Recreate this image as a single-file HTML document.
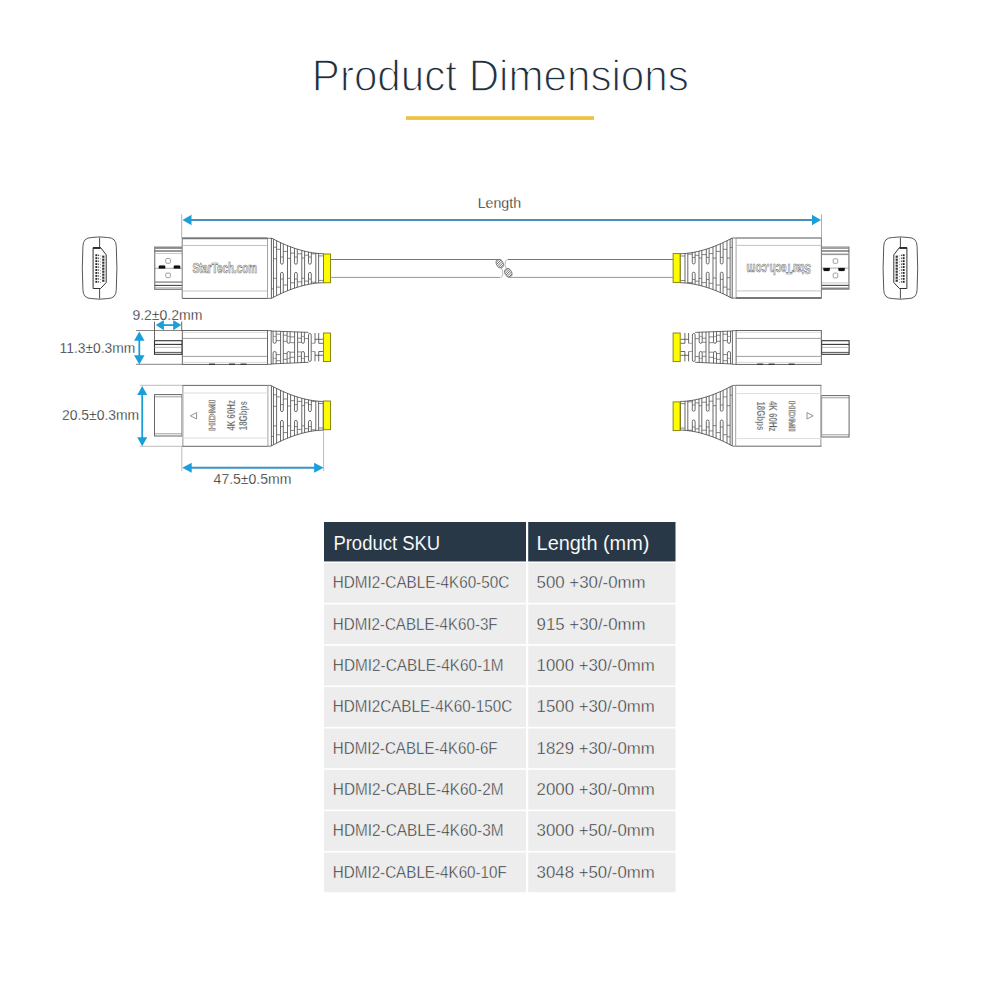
<!DOCTYPE html>
<html><head><meta charset="utf-8">
<style>
html,body{margin:0;padding:0;background:#fff;width:1000px;height:1000px;overflow:hidden;}
svg{position:absolute;left:0;top:0;font-family:"Liberation Sans",sans-serif;}
.th{stroke:#283847;stroke-width:0.1px;}
.tr{stroke:#ededed;stroke-width:0.45px;}
.ti{stroke:#fff;stroke-width:1.3px;}
.dim{stroke:#fff;stroke-width:0.3px;}
.logo{}
.sm{stroke:#fff;stroke-width:0.25px;}
</style></head><body>
<svg width="1000" height="1000" viewBox="0 0 1000 1000">
<text x="311.80" y="91.30" font-size="45" fill="#1f2f3e" textLength="377.00" lengthAdjust="spacingAndGlyphs" class="ti">Product Dimensions</text>
<rect x="406" y="116.2" width="188" height="3.7" fill="#efc23f"/>
<rect x="324" y="522" width="202" height="39.45" fill="#283847"/>
<rect x="528.2" y="522" width="147.3" height="39.45" fill="#283847"/>
<text x="333.40" y="549.60" font-size="20" fill="#fff" textLength="106.80" lengthAdjust="spacingAndGlyphs" class="th">Product SKU</text>
<text x="536.60" y="549.60" font-size="20" fill="#fff" textLength="112.80" lengthAdjust="spacingAndGlyphs" class="th">Length (mm)</text>
<rect x="324" y="563.05" width="202" height="39.75" fill="#ededed"/>
<rect x="528.2" y="563.05" width="147.3" height="39.75" fill="#ededed"/>
<text x="332.80" y="588.25" font-size="17.4" fill="#25292c" textLength="176.40" lengthAdjust="spacingAndGlyphs" class="tr">HDMI2-CABLE-4K60-50C</text>
<text x="536.60" y="588.25" font-size="17.4" fill="#25292c" textLength="109.00" lengthAdjust="spacingAndGlyphs" class="tr">500 +30/-0mm</text>
<rect x="324" y="604.40" width="202" height="39.75" fill="#ededed"/>
<rect x="528.2" y="604.40" width="147.3" height="39.75" fill="#ededed"/>
<text x="332.80" y="629.60" font-size="17.4" fill="#25292c" textLength="164.80" lengthAdjust="spacingAndGlyphs" class="tr">HDMI2-CABLE-4K60-3F</text>
<text x="536.60" y="629.60" font-size="17.4" fill="#25292c" textLength="109.00" lengthAdjust="spacingAndGlyphs" class="tr">915 +30/-0mm</text>
<rect x="324" y="645.75" width="202" height="39.75" fill="#ededed"/>
<rect x="528.2" y="645.75" width="147.3" height="39.75" fill="#ededed"/>
<text x="332.80" y="670.95" font-size="17.4" fill="#25292c" textLength="170.80" lengthAdjust="spacingAndGlyphs" class="tr">HDMI2-CABLE-4K60-1M</text>
<text x="536.60" y="670.95" font-size="17.4" fill="#25292c" textLength="118.20" lengthAdjust="spacingAndGlyphs" class="tr">1000 +30/-0mm</text>
<rect x="324" y="687.10" width="202" height="39.75" fill="#ededed"/>
<rect x="528.2" y="687.10" width="147.3" height="39.75" fill="#ededed"/>
<text x="332.80" y="712.30" font-size="17.4" fill="#25292c" textLength="179.40" lengthAdjust="spacingAndGlyphs" class="tr">HDMI2CABLE-4K60-150C</text>
<text x="536.60" y="712.30" font-size="17.4" fill="#25292c" textLength="118.20" lengthAdjust="spacingAndGlyphs" class="tr">1500 +30/-0mm</text>
<rect x="324" y="728.45" width="202" height="39.75" fill="#ededed"/>
<rect x="528.2" y="728.45" width="147.3" height="39.75" fill="#ededed"/>
<text x="332.80" y="753.65" font-size="17.4" fill="#25292c" textLength="164.80" lengthAdjust="spacingAndGlyphs" class="tr">HDMI2-CABLE-4K60-6F</text>
<text x="536.60" y="753.65" font-size="17.4" fill="#25292c" textLength="118.20" lengthAdjust="spacingAndGlyphs" class="tr">1829 +30/-0mm</text>
<rect x="324" y="769.80" width="202" height="39.75" fill="#ededed"/>
<rect x="528.2" y="769.80" width="147.3" height="39.75" fill="#ededed"/>
<text x="332.80" y="795.00" font-size="17.4" fill="#25292c" textLength="170.80" lengthAdjust="spacingAndGlyphs" class="tr">HDMI2-CABLE-4K60-2M</text>
<text x="536.60" y="795.00" font-size="17.4" fill="#25292c" textLength="118.20" lengthAdjust="spacingAndGlyphs" class="tr">2000 +30/-0mm</text>
<rect x="324" y="811.15" width="202" height="39.75" fill="#ededed"/>
<rect x="528.2" y="811.15" width="147.3" height="39.75" fill="#ededed"/>
<text x="332.80" y="836.35" font-size="17.4" fill="#25292c" textLength="170.80" lengthAdjust="spacingAndGlyphs" class="tr">HDMI2-CABLE-4K60-3M</text>
<text x="536.60" y="836.35" font-size="17.4" fill="#25292c" textLength="118.20" lengthAdjust="spacingAndGlyphs" class="tr">3000 +50/-0mm</text>
<rect x="324" y="852.50" width="202" height="39.75" fill="#ededed"/>
<rect x="528.2" y="852.50" width="147.3" height="39.75" fill="#ededed"/>
<text x="332.80" y="877.70" font-size="17.4" fill="#25292c" textLength="174.00" lengthAdjust="spacingAndGlyphs" class="tr">HDMI2-CABLE-4K60-10F</text>
<text x="536.60" y="877.70" font-size="17.4" fill="#25292c" textLength="118.20" lengthAdjust="spacingAndGlyphs" class="tr">3048 +50/-0mm</text>
<path d="M91.90,237.5 Q99.60,236.3 107.30,237.5 Q116.30,237.5 116.30,246.5 Q117.50,268.05 116.30,289.6 Q116.30,298.6 107.30,298.6 Q99.60,299.8 91.90,298.6 Q82.90,298.6 82.90,289.6 Q81.70,268.05 82.90,246.5 Q82.90,237.5 91.90,237.5 Z" stroke="#444" stroke-width="0.9" fill="none" />
<line x1="99.60" y1="237.50" x2="99.60" y2="247.60" stroke="#333" stroke-width="0.9" />
<line x1="99.60" y1="288.50" x2="99.60" y2="298.60" stroke="#333" stroke-width="0.9" />
<path d="M93.10,247.6 L100.60,247.6 L106.20,254.79999999999998 L106.20,282.5 L100.60,288.5 L93.10,288.5 Z" stroke="#333" stroke-width="1.0" fill="none" />
<line x1="93.10" y1="248.10" x2="100.60" y2="248.10" stroke="#222" stroke-width="1.6" />
<rect x="95.40" y="254.30" width="1.9" height="1.9" fill="#222"/>
<rect x="98.00" y="254.60" width="1.1" height="1.4" fill="#555"/>
<rect x="100.20" y="255.50" width="0.9" height="0.9" fill="#777"/>
<rect x="95.40" y="257.25" width="1.9" height="1.9" fill="#222"/>
<rect x="98.00" y="257.55" width="1.1" height="1.4" fill="#555"/>
<rect x="100.20" y="258.45" width="0.9" height="0.9" fill="#777"/>
<rect x="95.40" y="260.20" width="1.9" height="1.9" fill="#222"/>
<rect x="98.00" y="260.50" width="1.1" height="1.4" fill="#555"/>
<rect x="100.20" y="261.40" width="0.9" height="0.9" fill="#777"/>
<rect x="95.40" y="263.15" width="1.9" height="1.9" fill="#222"/>
<rect x="98.00" y="263.45" width="1.1" height="1.4" fill="#555"/>
<rect x="100.20" y="264.35" width="0.9" height="0.9" fill="#777"/>
<rect x="95.40" y="266.10" width="1.9" height="1.9" fill="#222"/>
<rect x="98.00" y="266.40" width="1.1" height="1.4" fill="#555"/>
<rect x="100.20" y="267.30" width="0.9" height="0.9" fill="#777"/>
<rect x="95.40" y="269.05" width="1.9" height="1.9" fill="#222"/>
<rect x="98.00" y="269.35" width="1.1" height="1.4" fill="#555"/>
<rect x="100.20" y="270.25" width="0.9" height="0.9" fill="#777"/>
<rect x="95.40" y="272.00" width="1.9" height="1.9" fill="#222"/>
<rect x="98.00" y="272.30" width="1.1" height="1.4" fill="#555"/>
<rect x="100.20" y="273.20" width="0.9" height="0.9" fill="#777"/>
<rect x="95.40" y="274.95" width="1.9" height="1.9" fill="#222"/>
<rect x="98.00" y="275.25" width="1.1" height="1.4" fill="#555"/>
<rect x="100.20" y="276.15" width="0.9" height="0.9" fill="#777"/>
<rect x="95.40" y="277.90" width="1.9" height="1.9" fill="#222"/>
<rect x="98.00" y="278.20" width="1.1" height="1.4" fill="#555"/>
<rect x="100.20" y="279.10" width="0.9" height="0.9" fill="#777"/>
<rect x="95.40" y="280.85" width="1.9" height="1.9" fill="#222"/>
<rect x="98.00" y="281.15" width="1.1" height="1.4" fill="#555"/>
<rect x="100.20" y="282.05" width="0.9" height="0.9" fill="#777"/>
<rect x="102.20" y="255.60" width="2.2" height="2.2" fill="#333"/>
<rect x="102.20" y="258.60" width="2.2" height="2.2" fill="#333"/>
<rect x="102.20" y="261.60" width="2.2" height="2.2" fill="#333"/>
<rect x="102.20" y="264.60" width="2.2" height="2.2" fill="#333"/>
<rect x="102.20" y="267.60" width="2.2" height="2.2" fill="#333"/>
<rect x="102.20" y="270.60" width="2.2" height="2.2" fill="#333"/>
<rect x="102.20" y="273.60" width="2.2" height="2.2" fill="#333"/>
<rect x="102.20" y="276.60" width="2.2" height="2.2" fill="#333"/>
<rect x="102.20" y="279.60" width="2.2" height="2.2" fill="#333"/>
<path d="M892.70,237.5 Q900.40,236.3 908.10,237.5 Q917.10,237.5 917.10,246.5 Q918.30,268.05 917.10,289.6 Q917.10,298.6 908.10,298.6 Q900.40,299.8 892.70,298.6 Q883.70,298.6 883.70,289.6 Q882.50,268.05 883.70,246.5 Q883.70,237.5 892.70,237.5 Z" stroke="#444" stroke-width="0.9" fill="none" />
<g transform="translate(1800.80,0) scale(-1,1)"><line x1="900.40" y1="237.50" x2="900.40" y2="247.60" stroke="#333" stroke-width="0.9" />
<line x1="900.40" y1="288.50" x2="900.40" y2="298.60" stroke="#333" stroke-width="0.9" />
<path d="M893.90,247.6 L901.40,247.6 L907.00,254.79999999999998 L907.00,282.5 L901.40,288.5 L893.90,288.5 Z" stroke="#333" stroke-width="1.0" fill="none" />
<line x1="893.90" y1="248.10" x2="901.40" y2="248.10" stroke="#222" stroke-width="1.6" />
<rect x="896.20" y="254.30" width="1.9" height="1.9" fill="#222"/>
<rect x="898.80" y="254.60" width="1.1" height="1.4" fill="#555"/>
<rect x="901.00" y="255.50" width="0.9" height="0.9" fill="#777"/>
<rect x="896.20" y="257.25" width="1.9" height="1.9" fill="#222"/>
<rect x="898.80" y="257.55" width="1.1" height="1.4" fill="#555"/>
<rect x="901.00" y="258.45" width="0.9" height="0.9" fill="#777"/>
<rect x="896.20" y="260.20" width="1.9" height="1.9" fill="#222"/>
<rect x="898.80" y="260.50" width="1.1" height="1.4" fill="#555"/>
<rect x="901.00" y="261.40" width="0.9" height="0.9" fill="#777"/>
<rect x="896.20" y="263.15" width="1.9" height="1.9" fill="#222"/>
<rect x="898.80" y="263.45" width="1.1" height="1.4" fill="#555"/>
<rect x="901.00" y="264.35" width="0.9" height="0.9" fill="#777"/>
<rect x="896.20" y="266.10" width="1.9" height="1.9" fill="#222"/>
<rect x="898.80" y="266.40" width="1.1" height="1.4" fill="#555"/>
<rect x="901.00" y="267.30" width="0.9" height="0.9" fill="#777"/>
<rect x="896.20" y="269.05" width="1.9" height="1.9" fill="#222"/>
<rect x="898.80" y="269.35" width="1.1" height="1.4" fill="#555"/>
<rect x="901.00" y="270.25" width="0.9" height="0.9" fill="#777"/>
<rect x="896.20" y="272.00" width="1.9" height="1.9" fill="#222"/>
<rect x="898.80" y="272.30" width="1.1" height="1.4" fill="#555"/>
<rect x="901.00" y="273.20" width="0.9" height="0.9" fill="#777"/>
<rect x="896.20" y="274.95" width="1.9" height="1.9" fill="#222"/>
<rect x="898.80" y="275.25" width="1.1" height="1.4" fill="#555"/>
<rect x="901.00" y="276.15" width="0.9" height="0.9" fill="#777"/>
<rect x="896.20" y="277.90" width="1.9" height="1.9" fill="#222"/>
<rect x="898.80" y="278.20" width="1.1" height="1.4" fill="#555"/>
<rect x="901.00" y="279.10" width="0.9" height="0.9" fill="#777"/>
<rect x="896.20" y="280.85" width="1.9" height="1.9" fill="#222"/>
<rect x="898.80" y="281.15" width="1.1" height="1.4" fill="#555"/>
<rect x="901.00" y="282.05" width="0.9" height="0.9" fill="#777"/>
<rect x="903.00" y="255.60" width="2.2" height="2.2" fill="#333"/>
<rect x="903.00" y="258.60" width="2.2" height="2.2" fill="#333"/>
<rect x="903.00" y="261.60" width="2.2" height="2.2" fill="#333"/>
<rect x="903.00" y="264.60" width="2.2" height="2.2" fill="#333"/>
<rect x="903.00" y="267.60" width="2.2" height="2.2" fill="#333"/>
<rect x="903.00" y="270.60" width="2.2" height="2.2" fill="#333"/>
<rect x="903.00" y="273.60" width="2.2" height="2.2" fill="#333"/>
<rect x="903.00" y="276.60" width="2.2" height="2.2" fill="#333"/>
<rect x="903.00" y="279.60" width="2.2" height="2.2" fill="#333"/></g>
<path d="M182,247.2 L154.7,247.2 L154.7,289.3 L182,289.3" stroke="#888" stroke-width="1.3" fill="none" />
<line x1="154.70" y1="248.00" x2="182.00" y2="248.00" stroke="#888" stroke-width="1.8" />
<line x1="154.70" y1="251.00" x2="182.00" y2="251.00" stroke="#555" stroke-width="1.2" />
<line x1="154.70" y1="253.50" x2="182.00" y2="253.50" stroke="#bbb" stroke-width="0.8" />
<line x1="154.70" y1="268.30" x2="182.00" y2="268.30" stroke="#888" stroke-width="0.7" />
<line x1="154.70" y1="282.10" x2="182.00" y2="282.10" stroke="#999" stroke-width="1.6" />
<line x1="154.70" y1="285.40" x2="182.00" y2="285.40" stroke="#444" stroke-width="1.1" />
<line x1="154.70" y1="287.90" x2="182.00" y2="287.90" stroke="#888" stroke-width="0.8" />
<rect x="165.80" y="258.50" width="4.60" height="4.80" stroke="#888" stroke-width="0.8" fill="none" rx="1"/>
<rect x="165.80" y="273.10" width="4.60" height="4.50" stroke="#888" stroke-width="0.8" fill="none" rx="1"/>
<path d="M158.8,268.4 L158.8,266.6 Q158.8,265.4 160.2,265.4 L163.8,265.4 Q165.2,265.4 165.2,266.6 L165.2,268.4 Z" stroke="#111" stroke-width="0.2" fill="#111" />
<path d="M173.8,268.4 L173.8,266.6 Q173.8,265.4 175.2,265.4 L178.8,265.4 Q180.2,265.4 180.2,266.6 L180.2,268.4 Z" stroke="#111" stroke-width="0.2" fill="#111" />
<path d="M182.2,238.2 L267.5,238.2 M182.2,298.4 L267.5,298.4" stroke="#555" stroke-width="1.0" fill="none" />
<line x1="182.20" y1="238.20" x2="182.20" y2="298.40" stroke="#777" stroke-width="1.0" />
<line x1="267.50" y1="238.20" x2="267.50" y2="298.40" stroke="#999" stroke-width="0.9" />
<line x1="182.20" y1="238.40" x2="267.50" y2="238.40" stroke="#777" stroke-width="1.8" />
<line x1="182.60" y1="245.50" x2="267.20" y2="245.50" stroke="#bbb" stroke-width="0.9" />
<line x1="182.60" y1="291.00" x2="267.20" y2="291.00" stroke="#bbb" stroke-width="0.9" />
<line x1="267.50" y1="238.30" x2="271.20" y2="238.30" stroke="#555" stroke-width="0.8" />
<line x1="267.50" y1="298.40" x2="271.20" y2="298.40" stroke="#555" stroke-width="0.8" />
<text x="192.5" y="272.8" font-size="14" font-weight="bold" fill="#f4f4f4" stroke="#777" stroke-width="0.65" textLength="64.5" lengthAdjust="spacingAndGlyphs" class="logo">StarTech.com</text>
<path d="M271.40,238.00 L273.57,239.16 L275.74,240.28 L277.91,241.35 L280.08,242.39 L282.25,243.39 L284.42,244.35 L286.60,245.26 L288.77,246.13 L290.94,246.96 L293.11,247.75 L295.28,248.49 L297.45,249.19 L299.62,249.84 L301.79,250.45 L303.96,251.01 L306.13,251.53 L308.30,251.99 L310.48,252.41 L312.65,252.77 L314.82,253.08 L316.99,253.33 L319.16,253.52 L321.33,253.65 L323.50,253.70 L323.50,282.70 L321.33,282.75 L319.16,282.88 L316.99,283.07 L314.82,283.32 L312.65,283.63 L310.48,283.99 L308.30,284.41 L306.13,284.87 L303.96,285.39 L301.79,285.95 L299.62,286.56 L297.45,287.21 L295.28,287.91 L293.11,288.65 L290.94,289.44 L288.77,290.27 L286.60,291.14 L284.42,292.05 L282.25,293.01 L280.08,294.01 L277.91,295.05 L275.74,296.12 L273.57,297.24 L271.40,298.40 Z" stroke="#3a3a3a" stroke-width="0.8" fill="none" />
<line x1="273.50" y1="239.12" x2="273.50" y2="297.28" stroke="#3a3a3a" stroke-width="0.75" />
<line x1="276.60" y1="240.71" x2="276.60" y2="295.69" stroke="#3a3a3a" stroke-width="0.75" />
<line x1="287.50" y1="245.63" x2="287.50" y2="290.77" stroke="#3a3a3a" stroke-width="0.75" />
<line x1="290.60" y1="246.84" x2="290.60" y2="289.56" stroke="#3a3a3a" stroke-width="0.75" />
<line x1="301.80" y1="250.45" x2="301.80" y2="285.95" stroke="#3a3a3a" stroke-width="0.75" />
<line x1="304.60" y1="251.17" x2="304.60" y2="285.23" stroke="#3a3a3a" stroke-width="0.75" />
<line x1="315.80" y1="253.20" x2="315.80" y2="283.20" stroke="#3a3a3a" stroke-width="0.75" />
<line x1="318.60" y1="253.48" x2="318.60" y2="282.92" stroke="#3a3a3a" stroke-width="0.75" />
<path d="M280.50,242.59 L280.50,262.80 A1.40,1.40 0 0 0 283.30,262.80 L283.30,243.86" stroke="#3a3a3a" stroke-width="0.75" fill="none" />
<path d="M280.50,293.81 L280.50,273.80 A1.40,1.40 0 0 1 283.30,273.80 L283.30,292.54" stroke="#3a3a3a" stroke-width="0.75" fill="none" />
<path d="M294.50,248.23 L294.50,262.80 A1.40,1.40 0 0 0 297.30,262.80 L297.30,249.14" stroke="#3a3a3a" stroke-width="0.75" fill="none" />
<path d="M294.50,288.17 L294.50,273.80 A1.40,1.40 0 0 1 297.30,273.80 L297.30,287.26" stroke="#3a3a3a" stroke-width="0.75" fill="none" />
<path d="M308.50,252.03 L308.50,262.80 A1.40,1.40 0 0 0 311.30,262.80 L311.30,252.55" stroke="#3a3a3a" stroke-width="0.75" fill="none" />
<path d="M308.50,284.37 L308.50,273.80 A1.40,1.40 0 0 1 311.30,273.80 L311.30,283.85" stroke="#3a3a3a" stroke-width="0.75" fill="none" />
<line x1="273.50" y1="247.20" x2="276.60" y2="247.20" stroke="#555" stroke-width="0.7" />
<line x1="273.50" y1="258.70" x2="276.60" y2="258.70" stroke="#555" stroke-width="0.7" />
<line x1="273.50" y1="278.30" x2="276.60" y2="278.30" stroke="#555" stroke-width="0.7" />
<line x1="271.40" y1="288.80" x2="273.50" y2="288.80" stroke="#555" stroke-width="0.7" />
<line x1="276.60" y1="249.30" x2="280.50" y2="249.30" stroke="#555" stroke-width="0.7" />
<line x1="276.60" y1="287.10" x2="280.50" y2="287.10" stroke="#555" stroke-width="0.7" />
<line x1="280.50" y1="257.00" x2="283.30" y2="257.00" stroke="#555" stroke-width="0.7" />
<line x1="280.50" y1="279.00" x2="283.30" y2="279.00" stroke="#555" stroke-width="0.7" />
<line x1="283.30" y1="251.40" x2="287.50" y2="251.40" stroke="#555" stroke-width="0.7" />
<line x1="283.30" y1="285.00" x2="287.50" y2="285.00" stroke="#555" stroke-width="0.7" />
<line x1="287.50" y1="258.40" x2="290.60" y2="258.40" stroke="#555" stroke-width="0.7" />
<line x1="287.50" y1="278.30" x2="290.60" y2="278.30" stroke="#555" stroke-width="0.7" />
<line x1="290.60" y1="253.10" x2="294.50" y2="253.10" stroke="#555" stroke-width="0.7" />
<line x1="290.60" y1="282.80" x2="294.50" y2="282.80" stroke="#555" stroke-width="0.7" />
<line x1="294.50" y1="257.00" x2="297.30" y2="257.00" stroke="#555" stroke-width="0.7" />
<line x1="294.50" y1="279.00" x2="297.30" y2="279.00" stroke="#555" stroke-width="0.7" />
<line x1="297.30" y1="253.80" x2="301.80" y2="253.80" stroke="#555" stroke-width="0.7" />
<line x1="297.30" y1="281.80" x2="301.80" y2="281.80" stroke="#555" stroke-width="0.7" />
<line x1="301.80" y1="258.00" x2="304.60" y2="258.00" stroke="#555" stroke-width="0.7" />
<line x1="301.80" y1="278.30" x2="304.60" y2="278.30" stroke="#555" stroke-width="0.7" />
<line x1="304.60" y1="255.20" x2="308.50" y2="255.20" stroke="#555" stroke-width="0.7" />
<line x1="304.60" y1="281.10" x2="308.50" y2="281.10" stroke="#555" stroke-width="0.7" />
<line x1="308.50" y1="257.00" x2="311.30" y2="257.00" stroke="#555" stroke-width="0.7" />
<line x1="308.50" y1="279.00" x2="311.30" y2="279.00" stroke="#555" stroke-width="0.7" />
<line x1="311.30" y1="253.80" x2="315.80" y2="253.80" stroke="#555" stroke-width="0.7" />
<line x1="311.30" y1="282.20" x2="315.80" y2="282.20" stroke="#555" stroke-width="0.7" />
<line x1="318.60" y1="255.90" x2="323.10" y2="255.90" stroke="#555" stroke-width="0.7" />
<line x1="318.60" y1="280.40" x2="323.10" y2="280.40" stroke="#555" stroke-width="0.7" />
<rect x="323.50" y="254.00" width="7.00" height="28.80" stroke="#807c00" stroke-width="0.9" fill="#fdfc00"/>
<g transform="rotate(180 501.8 268.2)"><path d="M182,247.2 L154.7,247.2 L154.7,289.3 L182,289.3" stroke="#888" stroke-width="1.3" fill="none" />
<line x1="154.70" y1="248.00" x2="182.00" y2="248.00" stroke="#888" stroke-width="1.8" />
<line x1="154.70" y1="251.00" x2="182.00" y2="251.00" stroke="#555" stroke-width="1.2" />
<line x1="154.70" y1="253.50" x2="182.00" y2="253.50" stroke="#bbb" stroke-width="0.8" />
<line x1="154.70" y1="268.30" x2="182.00" y2="268.30" stroke="#888" stroke-width="0.7" />
<line x1="154.70" y1="282.10" x2="182.00" y2="282.10" stroke="#999" stroke-width="1.6" />
<line x1="154.70" y1="285.40" x2="182.00" y2="285.40" stroke="#444" stroke-width="1.1" />
<line x1="154.70" y1="287.90" x2="182.00" y2="287.90" stroke="#888" stroke-width="0.8" />
<rect x="165.80" y="258.50" width="4.60" height="4.80" stroke="#888" stroke-width="0.8" fill="none" rx="1"/>
<rect x="165.80" y="273.10" width="4.60" height="4.50" stroke="#888" stroke-width="0.8" fill="none" rx="1"/>
<path d="M158.8,268.4 L158.8,266.6 Q158.8,265.4 160.2,265.4 L163.8,265.4 Q165.2,265.4 165.2,266.6 L165.2,268.4 Z" stroke="#111" stroke-width="0.2" fill="#111" />
<path d="M173.8,268.4 L173.8,266.6 Q173.8,265.4 175.2,265.4 L178.8,265.4 Q180.2,265.4 180.2,266.6 L180.2,268.4 Z" stroke="#111" stroke-width="0.2" fill="#111" />
<path d="M182.2,238.2 L267.5,238.2 M182.2,298.4 L267.5,298.4" stroke="#555" stroke-width="1.0" fill="none" />
<line x1="182.20" y1="238.20" x2="182.20" y2="298.40" stroke="#777" stroke-width="1.0" />
<line x1="267.50" y1="238.20" x2="267.50" y2="298.40" stroke="#999" stroke-width="0.9" />
<line x1="182.20" y1="238.40" x2="267.50" y2="238.40" stroke="#777" stroke-width="1.8" />
<line x1="182.60" y1="245.50" x2="267.20" y2="245.50" stroke="#bbb" stroke-width="0.9" />
<line x1="182.60" y1="291.00" x2="267.20" y2="291.00" stroke="#bbb" stroke-width="0.9" />
<line x1="267.50" y1="238.30" x2="271.20" y2="238.30" stroke="#555" stroke-width="0.8" />
<line x1="267.50" y1="298.40" x2="271.20" y2="298.40" stroke="#555" stroke-width="0.8" />
<text x="192.5" y="272.8" font-size="14" font-weight="bold" fill="#f4f4f4" stroke="#777" stroke-width="0.65" textLength="64.5" lengthAdjust="spacingAndGlyphs" class="logo">StarTech.com</text>
<path d="M271.40,238.00 L273.57,239.16 L275.74,240.28 L277.91,241.35 L280.08,242.39 L282.25,243.39 L284.42,244.35 L286.60,245.26 L288.77,246.13 L290.94,246.96 L293.11,247.75 L295.28,248.49 L297.45,249.19 L299.62,249.84 L301.79,250.45 L303.96,251.01 L306.13,251.53 L308.30,251.99 L310.48,252.41 L312.65,252.77 L314.82,253.08 L316.99,253.33 L319.16,253.52 L321.33,253.65 L323.50,253.70 L323.50,282.70 L321.33,282.75 L319.16,282.88 L316.99,283.07 L314.82,283.32 L312.65,283.63 L310.48,283.99 L308.30,284.41 L306.13,284.87 L303.96,285.39 L301.79,285.95 L299.62,286.56 L297.45,287.21 L295.28,287.91 L293.11,288.65 L290.94,289.44 L288.77,290.27 L286.60,291.14 L284.42,292.05 L282.25,293.01 L280.08,294.01 L277.91,295.05 L275.74,296.12 L273.57,297.24 L271.40,298.40 Z" stroke="#3a3a3a" stroke-width="0.8" fill="none" />
<line x1="273.50" y1="239.12" x2="273.50" y2="297.28" stroke="#3a3a3a" stroke-width="0.75" />
<line x1="276.60" y1="240.71" x2="276.60" y2="295.69" stroke="#3a3a3a" stroke-width="0.75" />
<line x1="287.50" y1="245.63" x2="287.50" y2="290.77" stroke="#3a3a3a" stroke-width="0.75" />
<line x1="290.60" y1="246.84" x2="290.60" y2="289.56" stroke="#3a3a3a" stroke-width="0.75" />
<line x1="301.80" y1="250.45" x2="301.80" y2="285.95" stroke="#3a3a3a" stroke-width="0.75" />
<line x1="304.60" y1="251.17" x2="304.60" y2="285.23" stroke="#3a3a3a" stroke-width="0.75" />
<line x1="315.80" y1="253.20" x2="315.80" y2="283.20" stroke="#3a3a3a" stroke-width="0.75" />
<line x1="318.60" y1="253.48" x2="318.60" y2="282.92" stroke="#3a3a3a" stroke-width="0.75" />
<path d="M280.50,242.59 L280.50,262.80 A1.40,1.40 0 0 0 283.30,262.80 L283.30,243.86" stroke="#3a3a3a" stroke-width="0.75" fill="none" />
<path d="M280.50,293.81 L280.50,273.80 A1.40,1.40 0 0 1 283.30,273.80 L283.30,292.54" stroke="#3a3a3a" stroke-width="0.75" fill="none" />
<path d="M294.50,248.23 L294.50,262.80 A1.40,1.40 0 0 0 297.30,262.80 L297.30,249.14" stroke="#3a3a3a" stroke-width="0.75" fill="none" />
<path d="M294.50,288.17 L294.50,273.80 A1.40,1.40 0 0 1 297.30,273.80 L297.30,287.26" stroke="#3a3a3a" stroke-width="0.75" fill="none" />
<path d="M308.50,252.03 L308.50,262.80 A1.40,1.40 0 0 0 311.30,262.80 L311.30,252.55" stroke="#3a3a3a" stroke-width="0.75" fill="none" />
<path d="M308.50,284.37 L308.50,273.80 A1.40,1.40 0 0 1 311.30,273.80 L311.30,283.85" stroke="#3a3a3a" stroke-width="0.75" fill="none" />
<line x1="273.50" y1="247.20" x2="276.60" y2="247.20" stroke="#555" stroke-width="0.7" />
<line x1="273.50" y1="258.70" x2="276.60" y2="258.70" stroke="#555" stroke-width="0.7" />
<line x1="273.50" y1="278.30" x2="276.60" y2="278.30" stroke="#555" stroke-width="0.7" />
<line x1="271.40" y1="288.80" x2="273.50" y2="288.80" stroke="#555" stroke-width="0.7" />
<line x1="276.60" y1="249.30" x2="280.50" y2="249.30" stroke="#555" stroke-width="0.7" />
<line x1="276.60" y1="287.10" x2="280.50" y2="287.10" stroke="#555" stroke-width="0.7" />
<line x1="280.50" y1="257.00" x2="283.30" y2="257.00" stroke="#555" stroke-width="0.7" />
<line x1="280.50" y1="279.00" x2="283.30" y2="279.00" stroke="#555" stroke-width="0.7" />
<line x1="283.30" y1="251.40" x2="287.50" y2="251.40" stroke="#555" stroke-width="0.7" />
<line x1="283.30" y1="285.00" x2="287.50" y2="285.00" stroke="#555" stroke-width="0.7" />
<line x1="287.50" y1="258.40" x2="290.60" y2="258.40" stroke="#555" stroke-width="0.7" />
<line x1="287.50" y1="278.30" x2="290.60" y2="278.30" stroke="#555" stroke-width="0.7" />
<line x1="290.60" y1="253.10" x2="294.50" y2="253.10" stroke="#555" stroke-width="0.7" />
<line x1="290.60" y1="282.80" x2="294.50" y2="282.80" stroke="#555" stroke-width="0.7" />
<line x1="294.50" y1="257.00" x2="297.30" y2="257.00" stroke="#555" stroke-width="0.7" />
<line x1="294.50" y1="279.00" x2="297.30" y2="279.00" stroke="#555" stroke-width="0.7" />
<line x1="297.30" y1="253.80" x2="301.80" y2="253.80" stroke="#555" stroke-width="0.7" />
<line x1="297.30" y1="281.80" x2="301.80" y2="281.80" stroke="#555" stroke-width="0.7" />
<line x1="301.80" y1="258.00" x2="304.60" y2="258.00" stroke="#555" stroke-width="0.7" />
<line x1="301.80" y1="278.30" x2="304.60" y2="278.30" stroke="#555" stroke-width="0.7" />
<line x1="304.60" y1="255.20" x2="308.50" y2="255.20" stroke="#555" stroke-width="0.7" />
<line x1="304.60" y1="281.10" x2="308.50" y2="281.10" stroke="#555" stroke-width="0.7" />
<line x1="308.50" y1="257.00" x2="311.30" y2="257.00" stroke="#555" stroke-width="0.7" />
<line x1="308.50" y1="279.00" x2="311.30" y2="279.00" stroke="#555" stroke-width="0.7" />
<line x1="311.30" y1="253.80" x2="315.80" y2="253.80" stroke="#555" stroke-width="0.7" />
<line x1="311.30" y1="282.20" x2="315.80" y2="282.20" stroke="#555" stroke-width="0.7" />
<line x1="318.60" y1="255.90" x2="323.10" y2="255.90" stroke="#555" stroke-width="0.7" />
<line x1="318.60" y1="280.40" x2="323.10" y2="280.40" stroke="#555" stroke-width="0.7" />
<rect x="323.50" y="254.00" width="7.00" height="28.80" stroke="#807c00" stroke-width="0.9" fill="#fdfc00"/></g>
<defs><clipPath id="ce0"><ellipse cx="499.8" cy="263.6" rx="3.4" ry="4.6" transform="rotate(-25 499.8 263.6)"/></clipPath><clipPath id="ce1"><ellipse cx="508.3" cy="272.8" rx="3.4" ry="4.6" transform="rotate(-25 508.3 272.8)"/></clipPath></defs>
<g clip-path="url(#ce0)"><line x1="486.60" y1="269.60" x2="498.60" y2="257.60" stroke="#3a3a3a" stroke-width="0.75" /><line x1="489.00" y1="269.60" x2="501.00" y2="257.60" stroke="#3a3a3a" stroke-width="0.75" /><line x1="491.40" y1="269.60" x2="503.40" y2="257.60" stroke="#3a3a3a" stroke-width="0.75" /><line x1="493.80" y1="269.60" x2="505.80" y2="257.60" stroke="#3a3a3a" stroke-width="0.75" /><line x1="496.20" y1="269.60" x2="508.20" y2="257.60" stroke="#3a3a3a" stroke-width="0.75" /><line x1="498.60" y1="269.60" x2="510.60" y2="257.60" stroke="#3a3a3a" stroke-width="0.75" /><line x1="501.00" y1="269.60" x2="513.00" y2="257.60" stroke="#3a3a3a" stroke-width="0.75" /></g>
<ellipse cx="499.8" cy="263.6" rx="3.4" ry="4.6" transform="rotate(-25 499.8 263.6)" fill="none" stroke="#555" stroke-width="0.6"/>
<g clip-path="url(#ce1)"><line x1="495.10" y1="278.80" x2="507.10" y2="266.80" stroke="#3a3a3a" stroke-width="0.75" /><line x1="497.50" y1="278.80" x2="509.50" y2="266.80" stroke="#3a3a3a" stroke-width="0.75" /><line x1="499.90" y1="278.80" x2="511.90" y2="266.80" stroke="#3a3a3a" stroke-width="0.75" /><line x1="502.30" y1="278.80" x2="514.30" y2="266.80" stroke="#3a3a3a" stroke-width="0.75" /><line x1="504.70" y1="278.80" x2="516.70" y2="266.80" stroke="#3a3a3a" stroke-width="0.75" /><line x1="507.10" y1="278.80" x2="519.10" y2="266.80" stroke="#3a3a3a" stroke-width="0.75" /><line x1="509.50" y1="278.80" x2="521.50" y2="266.80" stroke="#3a3a3a" stroke-width="0.75" /></g>
<ellipse cx="508.3" cy="272.8" rx="3.4" ry="4.6" transform="rotate(-25 508.3 272.8)" fill="none" stroke="#555" stroke-width="0.6"/>
<path d="M501.2,268 Q503,270 502.8,274 Q502.6,277 501,277.4" stroke="#999" stroke-width="0.7" fill="none" />
<path d="M506.8,259.6 Q505,261 505,264.5 Q505.2,267 506.6,268.6" stroke="#999" stroke-width="0.7" fill="none" />
<line x1="330.50" y1="259.50" x2="499.50" y2="259.50" stroke="#777" stroke-width="1.0" />
<line x1="330.50" y1="277.40" x2="500.50" y2="277.40" stroke="#999" stroke-width="1.0" />
<line x1="507.50" y1="259.50" x2="673.20" y2="259.50" stroke="#777" stroke-width="1.0" />
<line x1="508.00" y1="277.40" x2="673.20" y2="277.40" stroke="#999" stroke-width="1.0" />
<rect x="154.50" y="340.70" width="27.50" height="13.60" stroke="#333" stroke-width="1.1" fill="none"/>
<line x1="154.50" y1="344.40" x2="182.00" y2="344.40" stroke="#333" stroke-width="1.1" />
<line x1="154.50" y1="347.40" x2="182.00" y2="347.40" stroke="#aaa" stroke-width="0.8" />
<line x1="154.50" y1="352.40" x2="182.00" y2="352.40" stroke="#444" stroke-width="0.9" />
<rect x="182.30" y="330.50" width="85.20" height="33.90" stroke="#555" stroke-width="0.9" fill="none"/>
<line x1="182.50" y1="332.40" x2="267.30" y2="332.40" stroke="#ccc" stroke-width="0.7" />
<line x1="182.50" y1="338.40" x2="267.30" y2="338.40" stroke="#888" stroke-width="0.8" />
<line x1="182.50" y1="356.40" x2="267.30" y2="356.40" stroke="#888" stroke-width="0.8" />
<line x1="182.50" y1="362.40" x2="267.30" y2="362.40" stroke="#ccc" stroke-width="0.7" />
<line x1="209.00" y1="364.20" x2="215.00" y2="364.20" stroke="#333" stroke-width="1.3" />
<line x1="229.00" y1="364.20" x2="235.00" y2="364.20" stroke="#333" stroke-width="1.3" />
<line x1="240.50" y1="364.20" x2="246.50" y2="364.20" stroke="#333" stroke-width="1.3" />
<line x1="271.20" y1="330.60" x2="271.20" y2="364.30" stroke="#444" stroke-width="0.8" />
<line x1="267.50" y1="330.60" x2="271.20" y2="330.60" stroke="#555" stroke-width="0.8" />
<line x1="267.50" y1="364.30" x2="271.20" y2="364.30" stroke="#555" stroke-width="0.8" />
<path d="M271.1,331.00 L308.5,332.37 M271.1,364.00 L308.5,362.27" stroke="#3a3a3a" stroke-width="0.75" fill="none" />
<path d="M273.10,331.07 L273.10,341.75 A1.55,1.55 0 0 0 276.20,341.75 L276.20,331.19" stroke="#3a3a3a" stroke-width="0.75" fill="none" />
<path d="M273.10,363.91 L273.10,353.05 A1.55,1.55 0 0 1 276.20,353.05 L276.20,363.76" stroke="#3a3a3a" stroke-width="0.75" fill="none" />
<line x1="273.10" y1="336.40" x2="276.20" y2="336.40" stroke="#666" stroke-width="0.6" />
<line x1="273.10" y1="358.40" x2="276.20" y2="358.40" stroke="#666" stroke-width="0.6" />
<path d="M287.10,331.58 L287.10,341.80 A1.50,1.50 0 0 0 290.10,341.80 L290.10,331.69" stroke="#3a3a3a" stroke-width="0.75" fill="none" />
<path d="M287.10,363.26 L287.10,353.00 A1.50,1.50 0 0 1 290.10,353.00 L290.10,363.12" stroke="#3a3a3a" stroke-width="0.75" fill="none" />
<line x1="287.10" y1="336.40" x2="290.10" y2="336.40" stroke="#666" stroke-width="0.6" />
<line x1="287.10" y1="358.40" x2="290.10" y2="358.40" stroke="#666" stroke-width="0.6" />
<path d="M301.40,332.11 L301.40,341.80 A1.50,1.50 0 0 0 304.40,341.80 L304.40,332.22" stroke="#3a3a3a" stroke-width="0.75" fill="none" />
<path d="M301.40,362.60 L301.40,353.00 A1.50,1.50 0 0 1 304.40,353.00 L304.40,362.46" stroke="#3a3a3a" stroke-width="0.75" fill="none" />
<line x1="301.40" y1="336.40" x2="304.40" y2="336.40" stroke="#666" stroke-width="0.6" />
<line x1="301.40" y1="358.40" x2="304.40" y2="358.40" stroke="#666" stroke-width="0.6" />
<line x1="280.60" y1="331.35" x2="280.60" y2="363.56" stroke="#3a3a3a" stroke-width="0.75" />
<line x1="283.30" y1="331.45" x2="283.30" y2="363.44" stroke="#3a3a3a" stroke-width="0.75" />
<line x1="294.60" y1="331.86" x2="294.60" y2="362.92" stroke="#3a3a3a" stroke-width="0.75" />
<line x1="297.60" y1="331.97" x2="297.60" y2="362.78" stroke="#3a3a3a" stroke-width="0.75" />
<rect x="308.50" y="333.50" width="2.70" height="27.90" stroke="#3a3a3a" stroke-width="0.75" fill="none" rx="1.35"/>
<line x1="315.00" y1="333.00" x2="315.00" y2="343.30" stroke="#3a3a3a" stroke-width="0.75" />
<line x1="318.70" y1="333.00" x2="318.70" y2="343.30" stroke="#3a3a3a" stroke-width="0.75" />
<line x1="315.00" y1="351.50" x2="315.00" y2="361.40" stroke="#3a3a3a" stroke-width="0.75" />
<line x1="318.70" y1="351.50" x2="318.70" y2="361.40" stroke="#3a3a3a" stroke-width="0.75" />
<line x1="315.00" y1="339.30" x2="318.70" y2="339.30" stroke="#3a3a3a" stroke-width="0.75" />
<line x1="315.00" y1="355.30" x2="318.70" y2="355.30" stroke="#3a3a3a" stroke-width="0.75" />
<line x1="318.70" y1="339.30" x2="323.10" y2="339.30" stroke="#3a3a3a" stroke-width="0.75" />
<line x1="318.70" y1="343.30" x2="323.10" y2="343.30" stroke="#3a3a3a" stroke-width="0.75" />
<line x1="318.70" y1="351.50" x2="323.10" y2="351.50" stroke="#3a3a3a" stroke-width="0.75" />
<line x1="318.70" y1="355.30" x2="323.10" y2="355.30" stroke="#3a3a3a" stroke-width="0.75" />
<line x1="311.20" y1="343.30" x2="315.00" y2="343.30" stroke="#777" stroke-width="0.7" />
<line x1="311.20" y1="351.50" x2="315.00" y2="351.50" stroke="#777" stroke-width="0.7" />
<line x1="276.20" y1="334.20" x2="280.60" y2="334.20" stroke="#555" stroke-width="0.7" />
<line x1="276.20" y1="340.60" x2="280.60" y2="340.60" stroke="#555" stroke-width="0.7" />
<line x1="276.20" y1="354.60" x2="280.60" y2="354.60" stroke="#555" stroke-width="0.7" />
<line x1="276.20" y1="360.70" x2="280.60" y2="360.70" stroke="#555" stroke-width="0.7" />
<line x1="283.30" y1="335.20" x2="287.10" y2="335.20" stroke="#555" stroke-width="0.7" />
<line x1="283.30" y1="341.30" x2="287.10" y2="341.30" stroke="#555" stroke-width="0.7" />
<line x1="283.30" y1="353.60" x2="287.10" y2="353.60" stroke="#555" stroke-width="0.7" />
<line x1="283.30" y1="359.30" x2="287.10" y2="359.30" stroke="#555" stroke-width="0.7" />
<line x1="290.10" y1="336.90" x2="294.60" y2="336.90" stroke="#555" stroke-width="0.7" />
<line x1="290.10" y1="342.70" x2="294.60" y2="342.70" stroke="#555" stroke-width="0.7" />
<line x1="290.10" y1="352.20" x2="294.60" y2="352.20" stroke="#555" stroke-width="0.7" />
<line x1="290.10" y1="357.30" x2="294.60" y2="357.30" stroke="#555" stroke-width="0.7" />
<line x1="297.60" y1="338.20" x2="301.40" y2="338.20" stroke="#555" stroke-width="0.7" />
<line x1="297.60" y1="342.30" x2="301.40" y2="342.30" stroke="#555" stroke-width="0.7" />
<line x1="297.60" y1="351.90" x2="301.40" y2="351.90" stroke="#555" stroke-width="0.7" />
<line x1="297.60" y1="356.30" x2="301.40" y2="356.30" stroke="#555" stroke-width="0.7" />
<line x1="304.40" y1="338.60" x2="308.50" y2="338.60" stroke="#555" stroke-width="0.7" />
<line x1="304.40" y1="356.60" x2="308.50" y2="356.60" stroke="#555" stroke-width="0.7" />
<rect x="323.40" y="333.00" width="7.10" height="28.60" stroke="#807c00" stroke-width="0.9" fill="#fdfc00"/>
<g transform="translate(1003.6,0) scale(-1,1)"><rect x="154.50" y="340.70" width="27.50" height="13.60" stroke="#333" stroke-width="1.1" fill="none"/>
<line x1="154.50" y1="344.40" x2="182.00" y2="344.40" stroke="#333" stroke-width="1.1" />
<line x1="154.50" y1="347.40" x2="182.00" y2="347.40" stroke="#aaa" stroke-width="0.8" />
<line x1="154.50" y1="352.40" x2="182.00" y2="352.40" stroke="#444" stroke-width="0.9" />
<rect x="182.30" y="330.50" width="85.20" height="33.90" stroke="#555" stroke-width="0.9" fill="none"/>
<line x1="182.50" y1="332.40" x2="267.30" y2="332.40" stroke="#ccc" stroke-width="0.7" />
<line x1="182.50" y1="338.40" x2="267.30" y2="338.40" stroke="#888" stroke-width="0.8" />
<line x1="182.50" y1="356.40" x2="267.30" y2="356.40" stroke="#888" stroke-width="0.8" />
<line x1="182.50" y1="362.40" x2="267.30" y2="362.40" stroke="#ccc" stroke-width="0.7" />
<line x1="209.00" y1="364.20" x2="215.00" y2="364.20" stroke="#333" stroke-width="1.3" />
<line x1="229.00" y1="364.20" x2="235.00" y2="364.20" stroke="#333" stroke-width="1.3" />
<line x1="240.50" y1="364.20" x2="246.50" y2="364.20" stroke="#333" stroke-width="1.3" />
<line x1="271.20" y1="330.60" x2="271.20" y2="364.30" stroke="#444" stroke-width="0.8" />
<line x1="267.50" y1="330.60" x2="271.20" y2="330.60" stroke="#555" stroke-width="0.8" />
<line x1="267.50" y1="364.30" x2="271.20" y2="364.30" stroke="#555" stroke-width="0.8" />
<path d="M271.1,331.00 L308.5,332.37 M271.1,364.00 L308.5,362.27" stroke="#3a3a3a" stroke-width="0.75" fill="none" />
<path d="M273.10,331.07 L273.10,341.75 A1.55,1.55 0 0 0 276.20,341.75 L276.20,331.19" stroke="#3a3a3a" stroke-width="0.75" fill="none" />
<path d="M273.10,363.91 L273.10,353.05 A1.55,1.55 0 0 1 276.20,353.05 L276.20,363.76" stroke="#3a3a3a" stroke-width="0.75" fill="none" />
<line x1="273.10" y1="336.40" x2="276.20" y2="336.40" stroke="#666" stroke-width="0.6" />
<line x1="273.10" y1="358.40" x2="276.20" y2="358.40" stroke="#666" stroke-width="0.6" />
<path d="M287.10,331.58 L287.10,341.80 A1.50,1.50 0 0 0 290.10,341.80 L290.10,331.69" stroke="#3a3a3a" stroke-width="0.75" fill="none" />
<path d="M287.10,363.26 L287.10,353.00 A1.50,1.50 0 0 1 290.10,353.00 L290.10,363.12" stroke="#3a3a3a" stroke-width="0.75" fill="none" />
<line x1="287.10" y1="336.40" x2="290.10" y2="336.40" stroke="#666" stroke-width="0.6" />
<line x1="287.10" y1="358.40" x2="290.10" y2="358.40" stroke="#666" stroke-width="0.6" />
<path d="M301.40,332.11 L301.40,341.80 A1.50,1.50 0 0 0 304.40,341.80 L304.40,332.22" stroke="#3a3a3a" stroke-width="0.75" fill="none" />
<path d="M301.40,362.60 L301.40,353.00 A1.50,1.50 0 0 1 304.40,353.00 L304.40,362.46" stroke="#3a3a3a" stroke-width="0.75" fill="none" />
<line x1="301.40" y1="336.40" x2="304.40" y2="336.40" stroke="#666" stroke-width="0.6" />
<line x1="301.40" y1="358.40" x2="304.40" y2="358.40" stroke="#666" stroke-width="0.6" />
<line x1="280.60" y1="331.35" x2="280.60" y2="363.56" stroke="#3a3a3a" stroke-width="0.75" />
<line x1="283.30" y1="331.45" x2="283.30" y2="363.44" stroke="#3a3a3a" stroke-width="0.75" />
<line x1="294.60" y1="331.86" x2="294.60" y2="362.92" stroke="#3a3a3a" stroke-width="0.75" />
<line x1="297.60" y1="331.97" x2="297.60" y2="362.78" stroke="#3a3a3a" stroke-width="0.75" />
<rect x="308.50" y="333.50" width="2.70" height="27.90" stroke="#3a3a3a" stroke-width="0.75" fill="none" rx="1.35"/>
<line x1="315.00" y1="333.00" x2="315.00" y2="343.30" stroke="#3a3a3a" stroke-width="0.75" />
<line x1="318.70" y1="333.00" x2="318.70" y2="343.30" stroke="#3a3a3a" stroke-width="0.75" />
<line x1="315.00" y1="351.50" x2="315.00" y2="361.40" stroke="#3a3a3a" stroke-width="0.75" />
<line x1="318.70" y1="351.50" x2="318.70" y2="361.40" stroke="#3a3a3a" stroke-width="0.75" />
<line x1="315.00" y1="339.30" x2="318.70" y2="339.30" stroke="#3a3a3a" stroke-width="0.75" />
<line x1="315.00" y1="355.30" x2="318.70" y2="355.30" stroke="#3a3a3a" stroke-width="0.75" />
<line x1="318.70" y1="339.30" x2="323.10" y2="339.30" stroke="#3a3a3a" stroke-width="0.75" />
<line x1="318.70" y1="343.30" x2="323.10" y2="343.30" stroke="#3a3a3a" stroke-width="0.75" />
<line x1="318.70" y1="351.50" x2="323.10" y2="351.50" stroke="#3a3a3a" stroke-width="0.75" />
<line x1="318.70" y1="355.30" x2="323.10" y2="355.30" stroke="#3a3a3a" stroke-width="0.75" />
<line x1="311.20" y1="343.30" x2="315.00" y2="343.30" stroke="#777" stroke-width="0.7" />
<line x1="311.20" y1="351.50" x2="315.00" y2="351.50" stroke="#777" stroke-width="0.7" />
<line x1="276.20" y1="334.20" x2="280.60" y2="334.20" stroke="#555" stroke-width="0.7" />
<line x1="276.20" y1="340.60" x2="280.60" y2="340.60" stroke="#555" stroke-width="0.7" />
<line x1="276.20" y1="354.60" x2="280.60" y2="354.60" stroke="#555" stroke-width="0.7" />
<line x1="276.20" y1="360.70" x2="280.60" y2="360.70" stroke="#555" stroke-width="0.7" />
<line x1="283.30" y1="335.20" x2="287.10" y2="335.20" stroke="#555" stroke-width="0.7" />
<line x1="283.30" y1="341.30" x2="287.10" y2="341.30" stroke="#555" stroke-width="0.7" />
<line x1="283.30" y1="353.60" x2="287.10" y2="353.60" stroke="#555" stroke-width="0.7" />
<line x1="283.30" y1="359.30" x2="287.10" y2="359.30" stroke="#555" stroke-width="0.7" />
<line x1="290.10" y1="336.90" x2="294.60" y2="336.90" stroke="#555" stroke-width="0.7" />
<line x1="290.10" y1="342.70" x2="294.60" y2="342.70" stroke="#555" stroke-width="0.7" />
<line x1="290.10" y1="352.20" x2="294.60" y2="352.20" stroke="#555" stroke-width="0.7" />
<line x1="290.10" y1="357.30" x2="294.60" y2="357.30" stroke="#555" stroke-width="0.7" />
<line x1="297.60" y1="338.20" x2="301.40" y2="338.20" stroke="#555" stroke-width="0.7" />
<line x1="297.60" y1="342.30" x2="301.40" y2="342.30" stroke="#555" stroke-width="0.7" />
<line x1="297.60" y1="351.90" x2="301.40" y2="351.90" stroke="#555" stroke-width="0.7" />
<line x1="297.60" y1="356.30" x2="301.40" y2="356.30" stroke="#555" stroke-width="0.7" />
<line x1="304.40" y1="338.60" x2="308.50" y2="338.60" stroke="#555" stroke-width="0.7" />
<line x1="304.40" y1="356.60" x2="308.50" y2="356.60" stroke="#555" stroke-width="0.7" />
<rect x="323.40" y="333.00" width="7.10" height="28.60" stroke="#807c00" stroke-width="0.9" fill="#fdfc00"/></g>
<rect x="154.50" y="394.60" width="27.50" height="41.40" stroke="#666" stroke-width="1.0" fill="none"/>
<line x1="154.50" y1="396.80" x2="182.00" y2="396.80" stroke="#777" stroke-width="0.7" />
<line x1="154.50" y1="433.80" x2="182.00" y2="433.80" stroke="#777" stroke-width="0.7" />
<line x1="182.80" y1="385.40" x2="182.80" y2="446.30" stroke="#bbb" stroke-width="1.6" />
<path d="M182.2,385.4 L267.9,385.4 M267.9,446.3 L182.2,446.3" stroke="#666" stroke-width="1.0" fill="none" />
<line x1="267.90" y1="385.40" x2="267.90" y2="446.30" stroke="#999" stroke-width="0.9" />
<line x1="182.60" y1="393.00" x2="267.50" y2="393.00" stroke="#ddd" stroke-width="1.0" />
<line x1="182.60" y1="438.00" x2="267.50" y2="438.00" stroke="#ddd" stroke-width="1.0" />
<line x1="267.90" y1="385.40" x2="271.20" y2="385.40" stroke="#555" stroke-width="0.8" />
<line x1="267.90" y1="446.20" x2="271.20" y2="446.20" stroke="#555" stroke-width="0.8" />
<path d="M190.4,415.8 L196.6,412.6 L196.6,419 Z" stroke="#777" stroke-width="0.8" fill="none" />
<g transform="translate(215,430.9) rotate(-90)"><text x="0" y="0" font-size="8.6" font-weight="bold" fill="none" stroke="#777" stroke-width="0.55" textLength="31" lengthAdjust="spacingAndGlyphs">HDMI</text></g>
<g transform="translate(235,430.6) rotate(-90)"><text x="0" y="0" font-size="10" font-weight="bold" fill="#5a5a5a" textLength="30.5" lengthAdjust="spacingAndGlyphs" class="sm">4K 60Hz</text></g>
<g transform="translate(246.5,430.2) rotate(-90)"><text x="0" y="0" font-size="10" font-weight="bold" fill="#5a5a5a" textLength="29" lengthAdjust="spacingAndGlyphs" class="sm">18Gbps</text></g>
<path d="M271.40,385.70 L273.56,386.86 L275.72,387.98 L277.88,389.07 L280.03,390.11 L282.19,391.11 L284.35,392.07 L286.51,392.98 L288.67,393.86 L290.82,394.69 L292.98,395.48 L295.14,396.23 L297.30,396.93 L299.46,397.58 L301.62,398.19 L303.77,398.76 L305.93,399.27 L308.09,399.74 L310.25,400.15 L312.41,400.51 L314.57,400.82 L316.72,401.08 L318.88,401.27 L321.04,401.40 L323.20,401.45 L323.20,430.15 L321.04,430.20 L318.88,430.33 L316.72,430.52 L314.57,430.78 L312.41,431.09 L310.25,431.45 L308.09,431.86 L305.93,432.33 L303.77,432.84 L301.62,433.41 L299.46,434.02 L297.30,434.67 L295.14,435.37 L292.98,436.12 L290.82,436.91 L288.67,437.74 L286.51,438.62 L284.35,439.53 L282.19,440.49 L280.03,441.49 L277.88,442.53 L275.72,443.62 L273.56,444.74 L271.40,445.90 Z" stroke="#3a3a3a" stroke-width="0.8" fill="none" />
<line x1="273.50" y1="386.83" x2="273.50" y2="444.77" stroke="#3a3a3a" stroke-width="0.75" />
<line x1="276.60" y1="388.43" x2="276.60" y2="443.17" stroke="#3a3a3a" stroke-width="0.75" />
<line x1="287.50" y1="393.39" x2="287.50" y2="438.21" stroke="#3a3a3a" stroke-width="0.75" />
<line x1="290.60" y1="394.61" x2="290.60" y2="436.99" stroke="#3a3a3a" stroke-width="0.75" />
<line x1="301.80" y1="398.24" x2="301.80" y2="433.36" stroke="#3a3a3a" stroke-width="0.75" />
<line x1="304.60" y1="398.96" x2="304.60" y2="432.64" stroke="#3a3a3a" stroke-width="0.75" />
<line x1="315.80" y1="400.98" x2="315.80" y2="430.62" stroke="#3a3a3a" stroke-width="0.75" />
<line x1="318.60" y1="401.25" x2="318.60" y2="430.35" stroke="#3a3a3a" stroke-width="0.75" />
<path d="M280.50,390.33 L280.50,410.20 A1.40,1.40 0 0 0 283.30,410.20 L283.30,391.60" stroke="#3a3a3a" stroke-width="0.75" fill="none" />
<path d="M280.50,441.27 L280.50,421.80 A1.40,1.40 0 0 1 283.30,421.80 L283.30,440.00" stroke="#3a3a3a" stroke-width="0.75" fill="none" />
<path d="M294.50,396.01 L294.50,410.20 A1.40,1.40 0 0 0 297.30,410.20 L297.30,396.93" stroke="#3a3a3a" stroke-width="0.75" fill="none" />
<path d="M294.50,435.59 L294.50,421.80 A1.40,1.40 0 0 1 297.30,421.80 L297.30,434.67" stroke="#3a3a3a" stroke-width="0.75" fill="none" />
<path d="M308.50,399.82 L308.50,410.20 A1.40,1.40 0 0 0 311.30,410.20 L311.30,400.33" stroke="#3a3a3a" stroke-width="0.75" fill="none" />
<path d="M308.50,431.78 L308.50,421.80 A1.40,1.40 0 0 1 311.30,421.80 L311.30,431.27" stroke="#3a3a3a" stroke-width="0.75" fill="none" />
<line x1="273.50" y1="394.80" x2="276.60" y2="394.80" stroke="#555" stroke-width="0.7" />
<line x1="273.50" y1="406.30" x2="276.60" y2="406.30" stroke="#555" stroke-width="0.7" />
<line x1="273.50" y1="425.90" x2="276.60" y2="425.90" stroke="#555" stroke-width="0.7" />
<line x1="271.40" y1="436.40" x2="273.50" y2="436.40" stroke="#555" stroke-width="0.7" />
<line x1="276.60" y1="396.90" x2="280.50" y2="396.90" stroke="#555" stroke-width="0.7" />
<line x1="276.60" y1="434.70" x2="280.50" y2="434.70" stroke="#555" stroke-width="0.7" />
<line x1="280.50" y1="404.60" x2="283.30" y2="404.60" stroke="#555" stroke-width="0.7" />
<line x1="280.50" y1="426.60" x2="283.30" y2="426.60" stroke="#555" stroke-width="0.7" />
<line x1="283.30" y1="399.00" x2="287.50" y2="399.00" stroke="#555" stroke-width="0.7" />
<line x1="283.30" y1="432.60" x2="287.50" y2="432.60" stroke="#555" stroke-width="0.7" />
<line x1="287.50" y1="406.00" x2="290.60" y2="406.00" stroke="#555" stroke-width="0.7" />
<line x1="287.50" y1="425.90" x2="290.60" y2="425.90" stroke="#555" stroke-width="0.7" />
<line x1="290.60" y1="400.70" x2="294.50" y2="400.70" stroke="#555" stroke-width="0.7" />
<line x1="290.60" y1="430.40" x2="294.50" y2="430.40" stroke="#555" stroke-width="0.7" />
<line x1="294.50" y1="404.60" x2="297.30" y2="404.60" stroke="#555" stroke-width="0.7" />
<line x1="294.50" y1="426.60" x2="297.30" y2="426.60" stroke="#555" stroke-width="0.7" />
<line x1="297.30" y1="401.40" x2="301.80" y2="401.40" stroke="#555" stroke-width="0.7" />
<line x1="297.30" y1="429.40" x2="301.80" y2="429.40" stroke="#555" stroke-width="0.7" />
<line x1="301.80" y1="405.60" x2="304.60" y2="405.60" stroke="#555" stroke-width="0.7" />
<line x1="301.80" y1="425.90" x2="304.60" y2="425.90" stroke="#555" stroke-width="0.7" />
<line x1="304.60" y1="402.80" x2="308.50" y2="402.80" stroke="#555" stroke-width="0.7" />
<line x1="304.60" y1="428.70" x2="308.50" y2="428.70" stroke="#555" stroke-width="0.7" />
<line x1="308.50" y1="404.60" x2="311.30" y2="404.60" stroke="#555" stroke-width="0.7" />
<line x1="308.50" y1="426.60" x2="311.30" y2="426.60" stroke="#555" stroke-width="0.7" />
<line x1="311.30" y1="401.40" x2="315.80" y2="401.40" stroke="#555" stroke-width="0.7" />
<line x1="311.30" y1="429.80" x2="315.80" y2="429.80" stroke="#555" stroke-width="0.7" />
<line x1="318.60" y1="403.50" x2="323.10" y2="403.50" stroke="#555" stroke-width="0.7" />
<line x1="318.60" y1="428.00" x2="323.10" y2="428.00" stroke="#555" stroke-width="0.7" />
<rect x="323.50" y="401.00" width="7.00" height="28.70" stroke="#807c00" stroke-width="0.9" fill="#fdfc00"/>
<g transform="rotate(180 501.8 415.8)"><rect x="154.50" y="394.60" width="27.50" height="41.40" stroke="#666" stroke-width="1.0" fill="none"/>
<line x1="154.50" y1="396.80" x2="182.00" y2="396.80" stroke="#777" stroke-width="0.7" />
<line x1="154.50" y1="433.80" x2="182.00" y2="433.80" stroke="#777" stroke-width="0.7" />
<line x1="182.80" y1="385.40" x2="182.80" y2="446.30" stroke="#bbb" stroke-width="1.6" />
<path d="M182.2,385.4 L267.9,385.4 M267.9,446.3 L182.2,446.3" stroke="#666" stroke-width="1.0" fill="none" />
<line x1="267.90" y1="385.40" x2="267.90" y2="446.30" stroke="#999" stroke-width="0.9" />
<line x1="182.60" y1="393.00" x2="267.50" y2="393.00" stroke="#ddd" stroke-width="1.0" />
<line x1="182.60" y1="438.00" x2="267.50" y2="438.00" stroke="#ddd" stroke-width="1.0" />
<line x1="267.90" y1="385.40" x2="271.20" y2="385.40" stroke="#555" stroke-width="0.8" />
<line x1="267.90" y1="446.20" x2="271.20" y2="446.20" stroke="#555" stroke-width="0.8" />
<path d="M190.4,415.8 L196.6,412.6 L196.6,419 Z" stroke="#777" stroke-width="0.8" fill="none" />
<g transform="translate(215,430.9) rotate(-90)"><text x="0" y="0" font-size="8.6" font-weight="bold" fill="none" stroke="#777" stroke-width="0.55" textLength="31" lengthAdjust="spacingAndGlyphs">HDMI</text></g>
<g transform="translate(235,430.6) rotate(-90)"><text x="0" y="0" font-size="10" font-weight="bold" fill="#5a5a5a" textLength="30.5" lengthAdjust="spacingAndGlyphs" class="sm">4K 60Hz</text></g>
<g transform="translate(246.5,430.2) rotate(-90)"><text x="0" y="0" font-size="10" font-weight="bold" fill="#5a5a5a" textLength="29" lengthAdjust="spacingAndGlyphs" class="sm">18Gbps</text></g>
<path d="M271.40,385.70 L273.56,386.86 L275.72,387.98 L277.88,389.07 L280.03,390.11 L282.19,391.11 L284.35,392.07 L286.51,392.98 L288.67,393.86 L290.82,394.69 L292.98,395.48 L295.14,396.23 L297.30,396.93 L299.46,397.58 L301.62,398.19 L303.77,398.76 L305.93,399.27 L308.09,399.74 L310.25,400.15 L312.41,400.51 L314.57,400.82 L316.72,401.08 L318.88,401.27 L321.04,401.40 L323.20,401.45 L323.20,430.15 L321.04,430.20 L318.88,430.33 L316.72,430.52 L314.57,430.78 L312.41,431.09 L310.25,431.45 L308.09,431.86 L305.93,432.33 L303.77,432.84 L301.62,433.41 L299.46,434.02 L297.30,434.67 L295.14,435.37 L292.98,436.12 L290.82,436.91 L288.67,437.74 L286.51,438.62 L284.35,439.53 L282.19,440.49 L280.03,441.49 L277.88,442.53 L275.72,443.62 L273.56,444.74 L271.40,445.90 Z" stroke="#3a3a3a" stroke-width="0.8" fill="none" />
<line x1="273.50" y1="386.83" x2="273.50" y2="444.77" stroke="#3a3a3a" stroke-width="0.75" />
<line x1="276.60" y1="388.43" x2="276.60" y2="443.17" stroke="#3a3a3a" stroke-width="0.75" />
<line x1="287.50" y1="393.39" x2="287.50" y2="438.21" stroke="#3a3a3a" stroke-width="0.75" />
<line x1="290.60" y1="394.61" x2="290.60" y2="436.99" stroke="#3a3a3a" stroke-width="0.75" />
<line x1="301.80" y1="398.24" x2="301.80" y2="433.36" stroke="#3a3a3a" stroke-width="0.75" />
<line x1="304.60" y1="398.96" x2="304.60" y2="432.64" stroke="#3a3a3a" stroke-width="0.75" />
<line x1="315.80" y1="400.98" x2="315.80" y2="430.62" stroke="#3a3a3a" stroke-width="0.75" />
<line x1="318.60" y1="401.25" x2="318.60" y2="430.35" stroke="#3a3a3a" stroke-width="0.75" />
<path d="M280.50,390.33 L280.50,410.20 A1.40,1.40 0 0 0 283.30,410.20 L283.30,391.60" stroke="#3a3a3a" stroke-width="0.75" fill="none" />
<path d="M280.50,441.27 L280.50,421.80 A1.40,1.40 0 0 1 283.30,421.80 L283.30,440.00" stroke="#3a3a3a" stroke-width="0.75" fill="none" />
<path d="M294.50,396.01 L294.50,410.20 A1.40,1.40 0 0 0 297.30,410.20 L297.30,396.93" stroke="#3a3a3a" stroke-width="0.75" fill="none" />
<path d="M294.50,435.59 L294.50,421.80 A1.40,1.40 0 0 1 297.30,421.80 L297.30,434.67" stroke="#3a3a3a" stroke-width="0.75" fill="none" />
<path d="M308.50,399.82 L308.50,410.20 A1.40,1.40 0 0 0 311.30,410.20 L311.30,400.33" stroke="#3a3a3a" stroke-width="0.75" fill="none" />
<path d="M308.50,431.78 L308.50,421.80 A1.40,1.40 0 0 1 311.30,421.80 L311.30,431.27" stroke="#3a3a3a" stroke-width="0.75" fill="none" />
<line x1="273.50" y1="394.80" x2="276.60" y2="394.80" stroke="#555" stroke-width="0.7" />
<line x1="273.50" y1="406.30" x2="276.60" y2="406.30" stroke="#555" stroke-width="0.7" />
<line x1="273.50" y1="425.90" x2="276.60" y2="425.90" stroke="#555" stroke-width="0.7" />
<line x1="271.40" y1="436.40" x2="273.50" y2="436.40" stroke="#555" stroke-width="0.7" />
<line x1="276.60" y1="396.90" x2="280.50" y2="396.90" stroke="#555" stroke-width="0.7" />
<line x1="276.60" y1="434.70" x2="280.50" y2="434.70" stroke="#555" stroke-width="0.7" />
<line x1="280.50" y1="404.60" x2="283.30" y2="404.60" stroke="#555" stroke-width="0.7" />
<line x1="280.50" y1="426.60" x2="283.30" y2="426.60" stroke="#555" stroke-width="0.7" />
<line x1="283.30" y1="399.00" x2="287.50" y2="399.00" stroke="#555" stroke-width="0.7" />
<line x1="283.30" y1="432.60" x2="287.50" y2="432.60" stroke="#555" stroke-width="0.7" />
<line x1="287.50" y1="406.00" x2="290.60" y2="406.00" stroke="#555" stroke-width="0.7" />
<line x1="287.50" y1="425.90" x2="290.60" y2="425.90" stroke="#555" stroke-width="0.7" />
<line x1="290.60" y1="400.70" x2="294.50" y2="400.70" stroke="#555" stroke-width="0.7" />
<line x1="290.60" y1="430.40" x2="294.50" y2="430.40" stroke="#555" stroke-width="0.7" />
<line x1="294.50" y1="404.60" x2="297.30" y2="404.60" stroke="#555" stroke-width="0.7" />
<line x1="294.50" y1="426.60" x2="297.30" y2="426.60" stroke="#555" stroke-width="0.7" />
<line x1="297.30" y1="401.40" x2="301.80" y2="401.40" stroke="#555" stroke-width="0.7" />
<line x1="297.30" y1="429.40" x2="301.80" y2="429.40" stroke="#555" stroke-width="0.7" />
<line x1="301.80" y1="405.60" x2="304.60" y2="405.60" stroke="#555" stroke-width="0.7" />
<line x1="301.80" y1="425.90" x2="304.60" y2="425.90" stroke="#555" stroke-width="0.7" />
<line x1="304.60" y1="402.80" x2="308.50" y2="402.80" stroke="#555" stroke-width="0.7" />
<line x1="304.60" y1="428.70" x2="308.50" y2="428.70" stroke="#555" stroke-width="0.7" />
<line x1="308.50" y1="404.60" x2="311.30" y2="404.60" stroke="#555" stroke-width="0.7" />
<line x1="308.50" y1="426.60" x2="311.30" y2="426.60" stroke="#555" stroke-width="0.7" />
<line x1="311.30" y1="401.40" x2="315.80" y2="401.40" stroke="#555" stroke-width="0.7" />
<line x1="311.30" y1="429.80" x2="315.80" y2="429.80" stroke="#555" stroke-width="0.7" />
<line x1="318.60" y1="403.50" x2="323.10" y2="403.50" stroke="#555" stroke-width="0.7" />
<line x1="318.60" y1="428.00" x2="323.10" y2="428.00" stroke="#555" stroke-width="0.7" />
<rect x="323.50" y="401.00" width="7.00" height="28.70" stroke="#807c00" stroke-width="0.9" fill="#fdfc00"/></g>
<line x1="181.70" y1="214.50" x2="181.70" y2="238.00" stroke="#999" stroke-width="0.8" />
<line x1="821.50" y1="214.50" x2="821.50" y2="238.00" stroke="#999" stroke-width="0.8" />
<line x1="190.50" y1="220.00" x2="813.00" y2="220.00" stroke="#4a8fbc" stroke-width="1.9" />
<polygon points="182.50,220.00 191.50,214.80 191.50,225.20" fill="#1a9fd9"/>
<polygon points="821.00,220.00 812.00,214.80 812.00,225.20" fill="#1a9fd9"/>
<line x1="136.00" y1="330.50" x2="182.30" y2="330.50" stroke="#666" stroke-width="0.8" />
<line x1="136.00" y1="364.30" x2="182.30" y2="364.30" stroke="#666" stroke-width="0.8" />
<line x1="154.50" y1="321.60" x2="154.50" y2="340.70" stroke="#444" stroke-width="0.8" />
<line x1="181.70" y1="321.60" x2="181.70" y2="330.50" stroke="#444" stroke-width="0.8" />
<line x1="139.30" y1="339.70" x2="139.30" y2="356.30" stroke="#1a9fd9" stroke-width="1.8" />
<polygon points="139.30,331.50 134.05,340.70 144.55,340.70" fill="#1a9fd9"/>
<polygon points="139.30,364.50 134.05,355.30 144.55,355.30" fill="#1a9fd9"/>
<line x1="162.90" y1="325.10" x2="174.20" y2="325.10" stroke="#1a9fd9" stroke-width="1.8" />
<polygon points="155.80,325.10 163.90,320.00 163.90,330.20" fill="#1a9fd9"/>
<polygon points="181.30,325.10 173.20,320.00 173.20,330.20" fill="#1a9fd9"/>
<line x1="140.00" y1="385.30" x2="182.20" y2="385.30" stroke="#aaa" stroke-width="0.8" />
<line x1="140.00" y1="446.30" x2="182.20" y2="446.30" stroke="#aaa" stroke-width="0.8" />
<line x1="142.20" y1="394.00" x2="142.20" y2="438.30" stroke="#1a9fd9" stroke-width="1.8" />
<polygon points="142.20,386.00 137.20,395.00 147.20,395.00" fill="#1a9fd9"/>
<polygon points="142.20,446.30 137.20,437.30 147.20,437.30" fill="#1a9fd9"/>
<line x1="181.80" y1="446.30" x2="181.80" y2="471.00" stroke="#aaa" stroke-width="0.8" />
<line x1="323.60" y1="430.00" x2="323.60" y2="471.00" stroke="#aaa" stroke-width="0.8" />
<line x1="190.70" y1="467.80" x2="315.10" y2="467.80" stroke="#3a93c8" stroke-width="1.9" />
<polygon points="182.20,467.80 191.70,462.80 191.70,472.80" fill="#1a9fd9"/>
<polygon points="323.60,467.80 314.10,462.80 314.10,472.80" fill="#1a9fd9"/>
<text x="477.70" y="207.70" font-size="15.2" fill="#161616" textLength="43.40" lengthAdjust="spacingAndGlyphs" class="dim">Length</text>
<text x="132.40" y="320.00" font-size="15.0" fill="#161616" textLength="70.00" lengthAdjust="spacingAndGlyphs" class="dim">9.2±0.2mm</text>
<text x="59.60" y="352.80" font-size="15.0" fill="#161616" textLength="75.60" lengthAdjust="spacingAndGlyphs" class="dim">11.3±0.3mm</text>
<text x="62.00" y="419.80" font-size="15.0" fill="#161616" textLength="77.20" lengthAdjust="spacingAndGlyphs" class="dim">20.5±0.3mm</text>
<text x="213.60" y="484.30" font-size="15.0" fill="#161616" textLength="77.80" lengthAdjust="spacingAndGlyphs" class="dim">47.5±0.5mm</text>
</svg>
</body></html>
